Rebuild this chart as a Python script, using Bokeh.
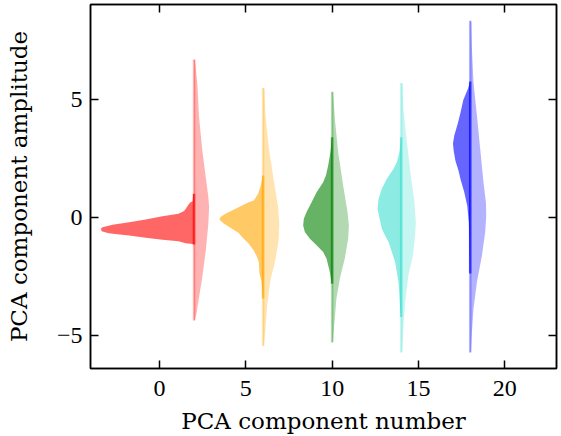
from bokeh.plotting import figure
from bokeh.models import LinearAxis, FixedTicker, ColumnDataSource
from bokeh.embed import file_html
from bokeh.resources import INLINE

# ---- data ----
positions = [2, 6, 10, 14, 18]
colors = ["red", "orange", "green", "turquoise", "blue"]

# left (dark) halves: amplitude values and half-widths
red_left_y = [1.02, 1.00, 0.70, 0.66, 0.59, 0.38, 0.28, 0.17, 0.06, -0.08, -0.19, -0.30, -0.40, -0.47, -0.57, -0.65, -0.68, -0.75, -0.85, -0.93, -1.00, -1.08, -1.12, -1.14]
red_left_w = [0.0, 0.05, 0.08, 0.20, 0.29, 0.48, 0.58, 0.90, 1.83, 2.80, 3.76, 4.72, 5.30, 5.40, 5.35, 5.00, 4.72, 3.76, 2.80, 1.83, 0.90, 0.48, 0.10, 0.0]
orange_left_y = [1.79, 1.30, 1.02, 0.73, 0.66, 0.52, 0.31, 0.17, 0.03, -0.09, -0.25, -0.47, -0.61, -0.66, -0.82, -1.10, -1.39, -1.67, -1.88, -2.37, -2.66, -2.94, -3.43]
orange_left_w = [0.0, 0.16, 0.29, 0.54, 0.83, 1.22, 1.80, 2.18, 2.47, 2.53, 2.28, 1.80, 1.50, 1.40, 1.22, 0.83, 0.54, 0.35, 0.25, 0.21, 0.10, 0.06, 0.0]
green_left_y = [3.42, 2.78, 2.22, 1.79, 1.51, 1.08, 0.66, 0.24, -0.04, -0.33, -0.61, -0.89, -1.17, -1.46, -1.74, -2.02, -2.31, -2.73, -2.80]
green_left_w = [0.0, 0.10, 0.23, 0.36, 0.52, 0.90, 1.19, 1.48, 1.64, 1.68, 1.58, 1.29, 0.90, 0.52, 0.32, 0.23, 0.13, 0.04, 0.0]
turq_left_y = [3.42, 2.78, 2.36, 2.08, 1.65, 1.23, 0.81, 0.38, -0.04, -0.47, -0.75, -1.03, -1.46, -1.88, -2.31, -2.73, -3.29, -3.86, -4.21]
turq_left_w = [0.0, 0.10, 0.25, 0.44, 0.83, 1.12, 1.31, 1.37, 1.25, 1.12, 0.93, 0.73, 0.54, 0.35, 0.25, 0.16, 0.10, 0.06, 0.0]
blue_left_y = [5.78, 5.50, 5.00, 4.50, 4.00, 3.50, 3.15, 2.80, 2.40, 2.00, 1.60, 1.10, 0.50, -0.20, -1.00, -2.30, -2.37]
blue_left_w = [0.0, 0.12, 0.40, 0.55, 0.72, 0.92, 1.00, 0.95, 0.85, 0.68, 0.55, 0.35, 0.17, 0.08, 0.05, 0.02, 0.0]

# right (light) halves
red_right_y = [6.72, 6.69, 5.68, 4.26, 2.85, 1.72, 0.87, 0.45, -0.25, -1.39, -2.52, -3.36, -4.07, -4.32, -4.36]
red_right_w = [0.0, 0.06, 0.19, 0.29, 0.48, 0.68, 0.83, 0.87, 0.83, 0.68, 0.48, 0.29, 0.14, 0.05, 0.0]
orange_right_y = [5.51, 5.45, 4.41, 2.99, 1.58, 0.45, -0.25, -0.96, -1.81, -2.66, -3.79, -4.78, -5.41, -5.45]
orange_right_w = [0.0, 0.08, 0.13, 0.33, 0.62, 0.87, 0.94, 0.90, 0.71, 0.42, 0.23, 0.13, 0.05, 0.0]
green_right_y = [5.35, 5.30, 4.19, 2.78, 1.37, 0.24, -0.33, -0.89, -1.74, -2.58, -3.43, -4.56, -5.27, -5.30]
green_right_w = [0.0, 0.06, 0.16, 0.35, 0.64, 0.89, 0.97, 0.93, 0.73, 0.45, 0.25, 0.12, 0.05, 0.0]
turq_right_y = [5.72, 5.68, 4.62, 3.20, 1.79, 0.66, -0.19, -0.75, -1.60, -2.44, -3.58, -4.70, -5.69, -5.72]
turq_right_w = [0.0, 0.08, 0.13, 0.33, 0.56, 0.77, 0.85, 0.81, 0.68, 0.42, 0.23, 0.13, 0.05, 0.0]
blue_right_y = [8.36, 8.30, 7.16, 5.75, 4.33, 2.92, 1.51, 0.66, 0.10, -0.61, -1.60, -2.73, -3.86, -4.85, -5.69, -5.72]
blue_right_w = [0.0, 0.06, 0.10, 0.19, 0.39, 0.58, 0.77, 0.91, 0.93, 0.87, 0.68, 0.39, 0.19, 0.10, 0.04, 0.0]

left_ys = [red_left_y, orange_left_y, green_left_y, turq_left_y, blue_left_y]
left_ws = [red_left_w, orange_left_w, green_left_w, turq_left_w, blue_left_w]
right_ys = [red_right_y, orange_right_y, green_right_y, turq_right_y, blue_right_y]
right_ws = [red_right_w, orange_right_w, green_right_w, turq_right_w, blue_right_w]

x_ticks = [0, 5, 10, 15, 20]
y_ticks = [-5, 0, 5]
y_tick_labels = {-5: "\u22125", 0: "0", 5: "5"}
x_label = "PCA component number"
y_label = "PCA component amplitude"

# ---- figure ----
p = figure(width=561, height=436, x_range=(-4, 23), y_range=(-6.4, 9.05),
           output_backend="svg", toolbar_location=None,
           min_border_left=90, min_border_right=5, min_border_top=4, min_border_bottom=68)
p.grid.visible = False
p.outline_line_color = "black"
p.outline_line_width = 1.5
p.background_fill_color = "white"
p.border_fill_color = "white"

bottom = p.below[0]
left = p.left[0]

# right halves
r_src = ColumnDataSource(dict(
    xs=[[pos + w for w in ws] for pos, ws in zip(positions, right_ws)],
    ys=right_ys, color=colors))
p.patches("xs", "ys", source=r_src, fill_color="color", fill_alpha=0.3, line_color=None)
p.segment(x0=positions, x1=positions, y0=[ys[0] for ys in right_ys], y1=[ys[-1] for ys in right_ys],
          line_color=colors, line_alpha=0.3, line_width=2.5)

# left halves
l_src = ColumnDataSource(dict(
    xs=[[pos - w for w in ws] for pos, ws in zip(positions, left_ws)],
    ys=left_ys, color=colors))
p.patches("xs", "ys", source=l_src, fill_color="color", fill_alpha=0.6, line_color=None)
p.segment(x0=positions, x1=positions, y0=[ys[0] for ys in left_ys], y1=[ys[-1] for ys in left_ys],
          line_color=colors, line_alpha=0.6, line_width=2.5)

# axes
tick_font = "Liberation Serif"
label_font = "DejaVu Serif"
bottom.ticker = FixedTicker(ticks=x_ticks)
left.ticker = FixedTicker(ticks=y_ticks)
left.major_label_overrides = y_tick_labels

top = LinearAxis(ticker=FixedTicker(ticks=x_ticks))
right = LinearAxis(ticker=FixedTicker(ticks=y_ticks))
p.add_layout(top, "above")
p.add_layout(right, "right")

for ax in [bottom, left, top, right]:
    ax.major_tick_in = 8
    ax.major_tick_out = 0
    ax.minor_tick_line_color = None
    ax.major_tick_line_width = 1.5
    ax.major_tick_line_color = "black"
    ax.axis_line_color = "black"
    ax.axis_line_width = 1.5
    ax.major_label_text_font = tick_font
    ax.major_label_text_font_size = "24px"
    ax.major_label_text_color = "black"
    ax.axis_label_text_font = label_font
    ax.axis_label_text_font_size = "23px"
    ax.axis_label_text_font_style = "normal"
    ax.axis_label_text_color = "black"

for ax in [top, right]:
    ax.major_label_text_font_size = "0px"
    ax.major_label_standoff = 0
    ax.major_label_text_alpha = 0

bottom.major_label_standoff = 12
bottom.axis_label_standoff = 9
left.major_label_standoff = 8
left.axis_label_standoff = 22
bottom.axis_label = x_label
left.axis_label = y_label

open("out.html", "w").write(file_html(p, INLINE))
